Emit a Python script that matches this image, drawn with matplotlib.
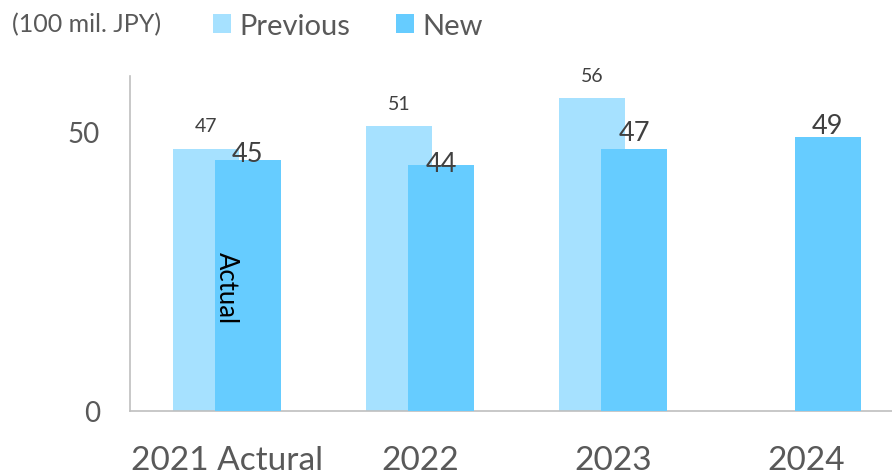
import matplotlib
matplotlib.use("Agg")
import matplotlib.pyplot as plt
import numpy as np
from matplotlib.patches import Patch

categories = ["2021 Actural", "2022", "2023", "2024"]
previous = [47, 51, 56, None]
new = [45, 44, 47, 49]
prev_labels = ["47", "51", "56", ""]
new_labels = ["45", "44", "47", "49"]

# label vertical offsets (points) for New labels
new_label_offsets = [-0.7, -4.3, 5.8, 3.4]

plt.rcParams['font.family'] = ['Lato', 'DejaVu Sans']

C_PREV = "#A6E1FF"
C_NEW = "#66CCFF"
C_TICK = "#595959"
C_LBL = "#404040"

fig = plt.figure(figsize=(8.92, 4.77), dpi=100)
ax = fig.add_axes([130/892, 1 - 411.7/477, 762/892, (411.7 - 77)/477])

x = np.arange(len(categories))
w = 0.341
off = 0.109

prev_x = [xi - off for xi, v in zip(x, previous) if v is not None]
prev_v = [v for v in previous if v is not None]
ax.bar(prev_x, prev_v, width=w, color=C_PREV, zorder=2)
ax.bar(x + off, new, width=w, color=C_NEW, zorder=3)

for xi, v, lab in zip(x, previous, prev_labels):
    if v is None:
        continue
    ax.annotate(lab, (xi - off, v), xytext=(0, 12.5), textcoords="offset points",
                ha="center", va="baseline", fontsize=14, color=C_LBL, zorder=5)
for xi, v, lab, dy in zip(x, new, new_labels, new_label_offsets):
    ax.annotate(lab, (xi + off, v), xytext=(0, dy), textcoords="offset points",
                ha="center", va="baseline", fontsize=19.5, color=C_LBL, zorder=5)

ax.text(x[0], 22.2, "Actual", rotation=270, ha="center", va="center",
        fontsize=18.5, color="black", zorder=6)

ax.set_xlim(-0.5, 3.442)
ax.set_ylim(0, 60)
ax.set_yticks([0, 50])
ax.set_xticks(x)
ax.set_xticklabels(categories)
ax.tick_params(axis="y", length=0, pad=21.5, labelsize=20, labelcolor=C_TICK)
ax.tick_params(axis="x", length=0, pad=24.5, labelsize=24, labelcolor=C_TICK)
for s in ["top", "right"]:
    ax.spines[s].set_visible(False)
for s in ["left", "bottom"]:
    ax.spines[s].set_color("#BFBFBF")
    ax.spines[s].set_linewidth(1.2)

fig.text(12/892, 1 - 25/477, "(100 mil. JPY)", fontsize=18, color=C_TICK,
         ha="left", va="center")

handles = [Patch(facecolor=C_PREV, edgecolor="none", label="Previous"),
           Patch(facecolor=C_NEW, edgecolor="none", label="New")]
leg = fig.legend(handles=handles, loc="center left", bbox_to_anchor=(213/892, 1 - 27/477),
                 ncol=2, frameon=False, fontsize=21, handlelength=0.62, handleheight=0.62,
                 handletextpad=0.3, columnspacing=1.55, borderpad=0, borderaxespad=0)
for t in leg.get_texts():
    t.set_color(C_TICK)

fig.savefig("out.png", dpi=100)
